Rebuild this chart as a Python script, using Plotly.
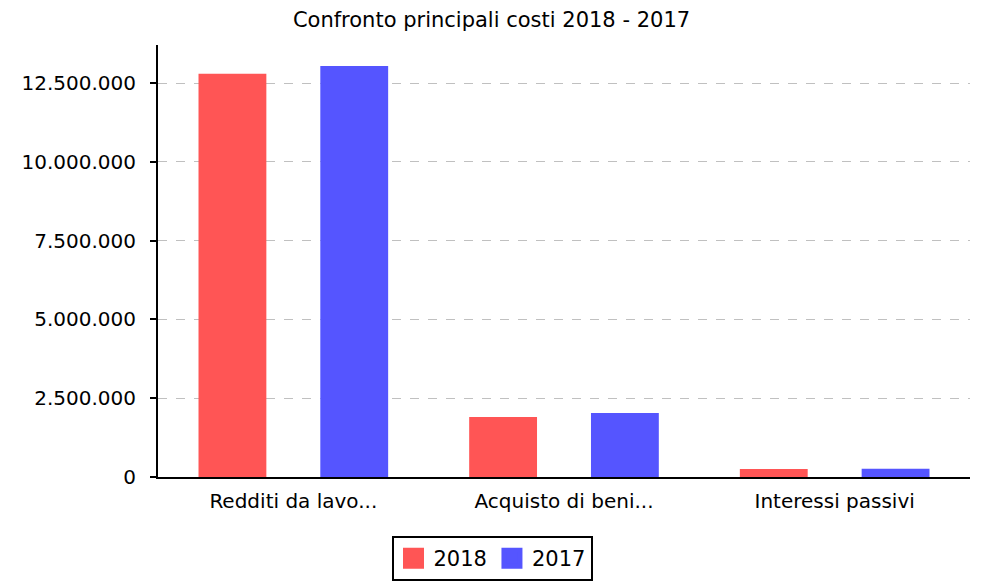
import plotly.graph_objects as go

categories = ["Redditi da lavo...", "Acquisto di beni...", "Interessi passivi"]
series_names = ["2018", "2017"]
series_colors = ["#FF5555", "#5555FF"]
values_2018 = [12790000, 1900000, 250000]
values_2017 = [13040000, 2030000, 260000]
y_ticks = [0, 2500000, 5000000, 7500000, 10000000, 12500000]
title_text = "Confronto principali costi 2018 - 2017"

FONT = "DejaVu Sans"
OFF = 8  # page body margin

W, H = 982, 581

fig = go.Figure()
for name, vals, col in zip(series_names, [values_2018, values_2017], series_colors):
    fig.add_trace(go.Bar(name=name, x=categories, y=vals, showlegend=False,
                         marker=dict(color=col, line=dict(width=0))))
# legend entries
for name, col in zip(series_names, series_colors):
    fig.add_trace(go.Scatter(name=name, x=[None], y=[None], mode="markers",
                             marker=dict(symbol="square", size=16, color=col,
                                         line=dict(color=col, width=5)),
                             showlegend=True))

fig.update_layout(
    width=W, height=H,
    margin=dict(l=158 - OFF, r=W - (970 - OFF), t=45 - OFF, b=H - (477 - OFF), autoexpand=False),
    paper_bgcolor="white", plot_bgcolor="white",
    font=dict(family=FONT, size=20, color="black"),
    separators=",.",
    barmode="group", bargap=0.1, bargroupgap=0.443,
    title=dict(text=title_text, x=(491.5 - OFF) / W, xref="container", xanchor="center",
               y=1 - (20 - OFF) / H, yref="container", yanchor="middle",
               font=dict(family=FONT, size=21, color="black")),
    showlegend=True,
    legend=dict(orientation="h", x=(492 - OFF) / W, xref="container", xanchor="center",
                y=1 - (536 - OFF) / H, yref="container", yanchor="top",
                bordercolor="black", borderwidth=2, bgcolor="white",
                itemsizing="trace",
                font=dict(family=FONT, size=21, color="black")),
    xaxis=dict(showline=True, linecolor="black", linewidth=2,
               ticks="", showgrid=False, zeroline=False, ticklabelstandoff=5,
               tickfont=dict(family=FONT, size=20)),
    yaxis=dict(range=[0, 13.706e6], tickvals=y_ticks, tickformat=",d",
               showline=True, linecolor="black", linewidth=2,
               ticks="outside", ticklen=6, tickcolor="black", tickwidth=2,
               ticklabelstandoff=10,
               showgrid=True, gridcolor="#C0C0C0", griddash="dash", gridwidth=1,
               zeroline=False, tickfont=dict(family=FONT, size=20)),
)

fig.write_html("out.html")
